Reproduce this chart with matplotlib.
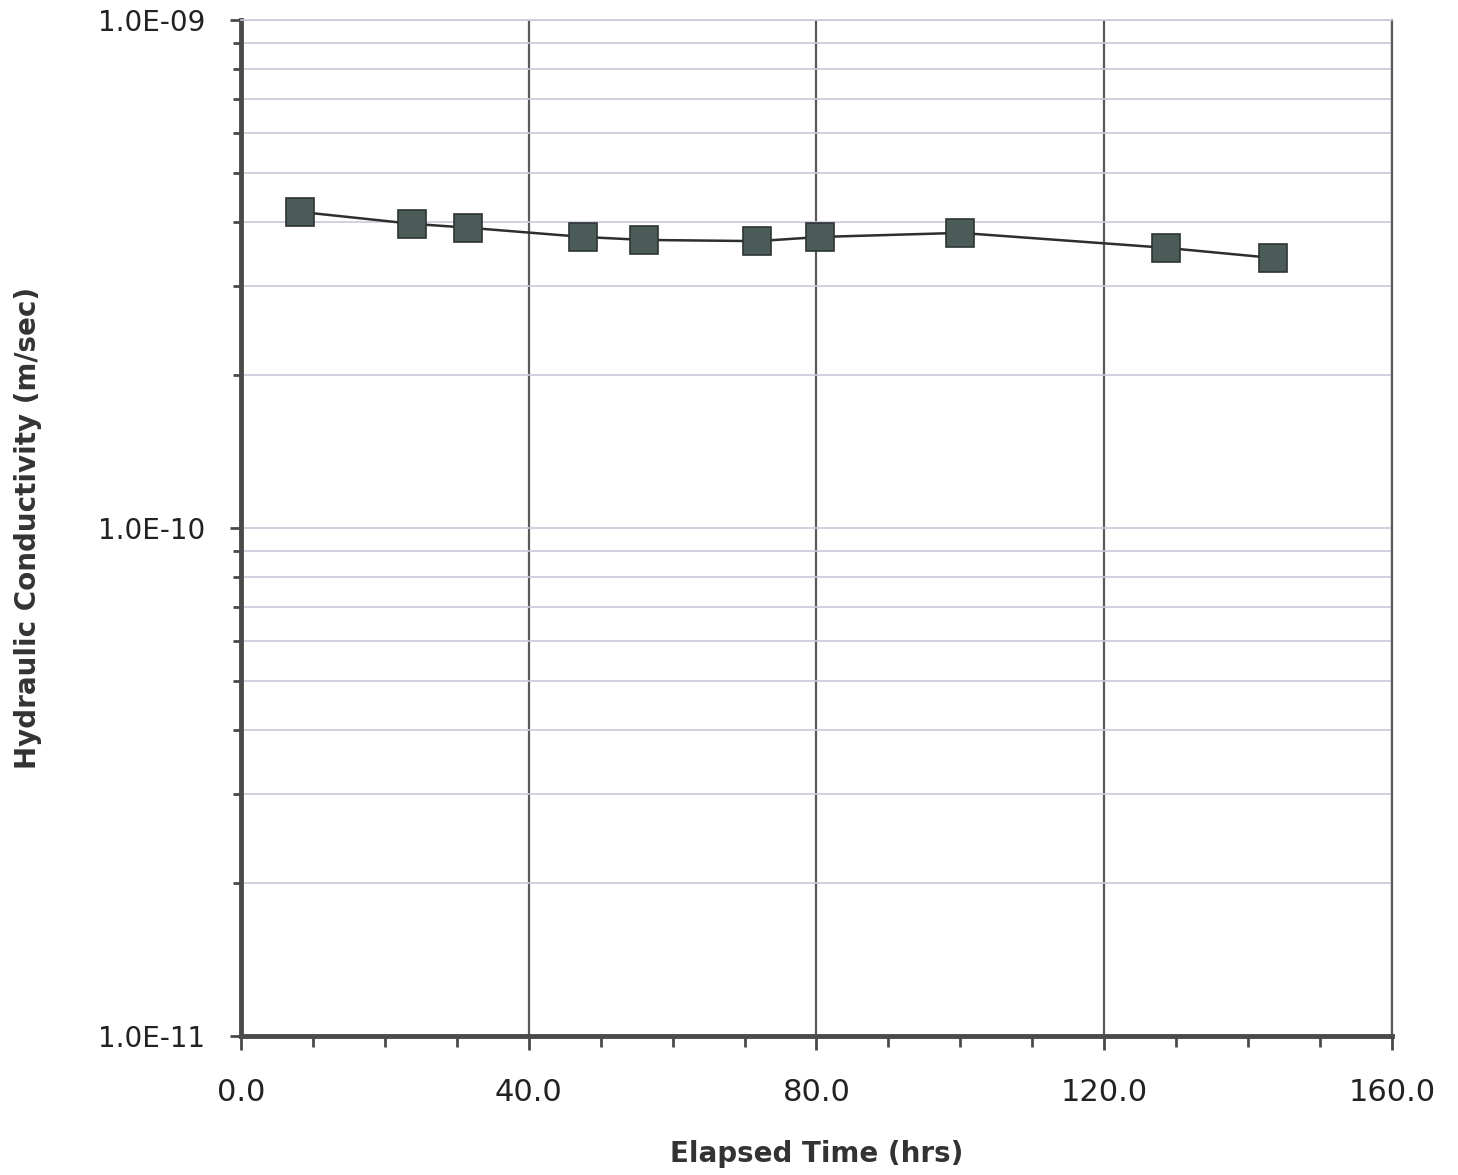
import matplotlib.pyplot as plt
from matplotlib.ticker import LogLocator, MultipleLocator, FixedFormatter, FixedLocator, NullFormatter

# elapsed time (hrs) and hydraulic conductivity (m/sec)
elapsed_hrs = [8.2, 23.8, 31.6, 47.6, 56.0, 71.8, 80.5, 100.0, 128.6, 143.5]
conductivity = [4.19e-10, 3.97e-10, 3.90e-10, 3.74e-10, 3.69e-10,
                3.67e-10, 3.74e-10, 3.81e-10, 3.56e-10, 3.40e-10]

x_ticks = [0, 40, 80, 120, 160]
x_labels = ["0.0", "40.0", "80.0", "120.0", "160.0"]
y_ticks = [1e-11, 1e-10, 1e-9]
y_labels = ["1.0E-11", "1.0E-10", "1.0E-09"]

plt.rcParams['font.family'] = ['DejaVu Sans']

fig = plt.figure(figsize=(14.58, 11.75), dpi=100)
ax = fig.add_axes([0.1653, 0.1183, 0.7894, 0.8647])

ax.plot(elapsed_hrs, conductivity, color='#2b2f2e', lw=1.8, marker='s',
        markersize=20, markerfacecolor='#4b5b57', markeredgecolor='#2e3534',
        markeredgewidth=1.2, zorder=3)

ax.set_yscale('log')
ax.set_xlim(0, 160)
ax.set_ylim(1e-11, 1e-9)

ax.xaxis.set_major_locator(FixedLocator(x_ticks))
ax.xaxis.set_major_formatter(FixedFormatter(x_labels))
ax.xaxis.set_minor_locator(MultipleLocator(10))
ax.yaxis.set_major_locator(FixedLocator(y_ticks))
ax.yaxis.set_major_formatter(FixedFormatter(y_labels))
ax.yaxis.set_minor_locator(LogLocator(base=10, subs=range(2, 10)))
ax.yaxis.set_minor_formatter(NullFormatter())

ax.grid(True, axis='x', which='major', color='#5a5a5a', lw=1.6)
ax.grid(True, axis='y', which='both', color='#cbc7da', lw=1.2)

for side in ['left', 'bottom']:
    ax.spines[side].set_color('#4a4a4a')
    ax.spines[side].set_linewidth(3.5)
ax.spines['top'].set_color('#cbc7da')
ax.spines['top'].set_linewidth(1.2)
ax.spines['right'].set_color('#5a5a5a')
ax.spines['right'].set_linewidth(1.6)

ax.tick_params(axis='both', which='both', direction='out', color='#4a4a4a', width=2)
ax.tick_params(axis='x', which='major', length=10, pad=20, labelsize=22, labelcolor='#222')
ax.tick_params(axis='x', which='minor', length=8)
ax.tick_params(axis='y', which='major', length=8, pad=18, labelsize=20, labelcolor='#222')
ax.tick_params(axis='y', which='minor', length=6)

ax.set_xlabel('Elapsed Time (hrs)', fontsize=20, fontweight='bold', color='#333', labelpad=24)
ax.set_ylabel('Hydraulic Conductivity (m/sec)', fontsize=20, fontweight='bold', color='#333', labelpad=40)

fig.savefig('out.png', dpi=100)
